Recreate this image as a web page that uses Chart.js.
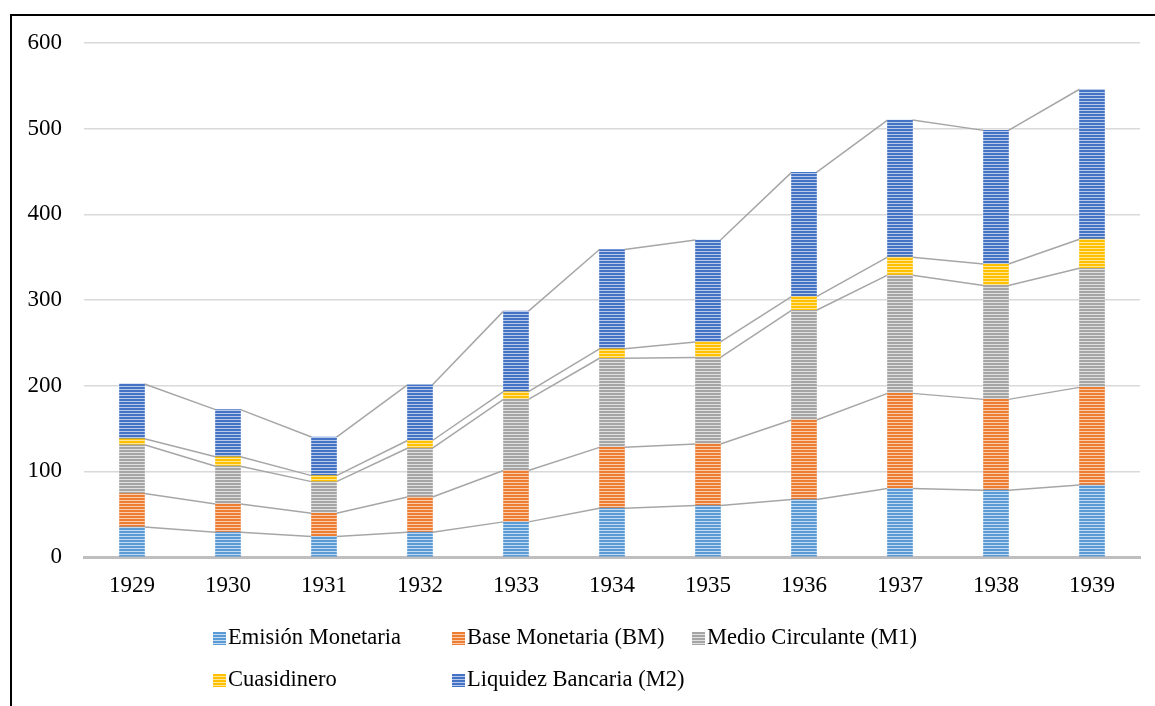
<!DOCTYPE html>
<html>
<head>
<meta charset="utf-8">
<script src="https://cdn.jsdelivr.net/npm/chart.js@4/dist/chart.umd.min.js"></script>
<style>
  body { margin: 0; background: #fff; }
  #wrap { position: relative; width: 1155px; height: 706px; overflow: hidden; }
  #frame { position: absolute; left: 10px; top: 14px; width: 1200px; height: 800px;
           border-left: 2.5px solid #000; border-top: 2.5px solid #000; }
  canvas { position: absolute; left: 0; top: 0; }
  .item { position: absolute; height: 26px; line-height: 26px; font: 22.5px "Liberation Serif", "Times New Roman", serif;
          color: #000; white-space: nowrap; }
  .box { position: absolute; width: 13px; height: 13px; }
</style>
</head>
<body>
<div id="wrap">
  <div id="frame"></div>
  <canvas id="chart" width="1155" height="706"></canvas>
  <div id="legend"></div>
</div>
<script>
  // 年ごとのデータ（積み上げの各区間の高さ）
  const years = ["1929", "1930", "1931", "1932", "1933", "1934", "1935", "1936", "1937", "1938", "1939"];
  const emision = [35, 29, 24, 29, 41, 57, 60, 67, 80, 78, 84];
  const baseMonetaria = [39, 33, 27, 41, 60, 71, 72, 93, 111, 106, 114];
  const medioCirculante = [57, 44, 37, 57, 83, 104, 101, 128, 138, 133, 139];
  const cuasidinero = [7, 11, 7, 9, 9, 11, 18, 16, 21, 25, 34];
  const liquidez = [64, 55, 45, 65, 94, 116, 119, 145, 160, 156, 175];
  const yTicks = [0, 100, 200, 300, 400, 500, 600];

  const seriesNames = ["Emisión Monetaria", "Base Monetaria (BM)", "Medio Circulante (M1)", "Cuasidinero", "Liquidez Bancaria (M2)"];
  const seriesColors = ["#5B9BD5", "#ED7D31", "#A5A5A5", "#FFC000", "#4472C4"];
  const seriesLight = ["#c4dbf1", "#f8cdb0", "#e0e0e0", "#ffe699", "#b9c9ea"];
  const seriesData = [emision, baseMonetaria, medioCirculante, cuasidinero, liquidez];

  // 横縞のパターン
  function stripe(color, light) {
    const c = document.createElement("canvas");
    c.width = 4; c.height = 3;
    const g = c.getContext("2d");
    g.fillStyle = color; g.fillRect(0, 0, 4, 3);
    g.fillStyle = light; g.fillRect(0, 2, 4, 1);
    return g.createPattern(c, "repeat");
  }

  // 系列線（各区間の上端を結ぶ）
  const seriesLines = {
    id: "seriesLines",
    beforeDatasetsDraw(chart) {
      const ctx = chart.ctx;
      ctx.save();
      ctx.strokeStyle = "#a6a6a6";
      ctx.lineWidth = 1.5;
      chart.data.datasets.forEach((ds, i) => {
        const bars = chart.getDatasetMeta(i).data;
        for (let k = 0; k < bars.length - 1; k++) {
          const a = bars[k], b = bars[k + 1];
          ctx.beginPath();
          ctx.moveTo(a.x + a.width / 2, a.y);
          ctx.lineTo(b.x - b.width / 2, b.y);
          ctx.stroke();
        }
      });
      ctx.restore();
    }
  };

  const font = { family: "'Liberation Serif', 'Times New Roman', serif", size: 23 };

  const ctx = document.getElementById("chart").getContext("2d");
  new Chart(ctx, {
    type: "bar",
    data: {
      labels: years,
      datasets: seriesData.map((d, i) => ({
        label: seriesNames[i],
        data: d,
        backgroundColor: stripe(seriesColors[i], seriesLight[i]),
        borderWidth: 0,
        barThickness: 25
      }))
    },
    options: {
      responsive: false,
      animation: false,
      layout: { padding: { left: 0, top: 43, right: 15, bottom: 0 } },
      plugins: { legend: { display: false }, tooltip: { enabled: false } },
      scales: {
        x: {
          stacked: true,
          grid: { display: false, drawTicks: false },
          border: { color: "#bfbfbf", width: 3 },
          ticks: { font: font, color: "#000", padding: 15, maxRotation: 0 },
          afterFit: (s) => { s.height = 149; }
        },
        y: {
          stacked: true,
          min: 0,
          max: 600,
          afterBuildTicks: (s) => { s.ticks = yTicks.map((v) => ({ value: v })); },
          grid: { color: "#d9d9d9", lineWidth: 1.5, drawTicks: false },
          border: { display: false },
          ticks: { font: font, color: "#000", padding: 22 },
          afterFit: (s) => { s.width = 84; }
        }
      }
    },
    plugins: [seriesLines]
  });

  // 凡例（HTML）
  const legendPos = [[213, 632], [452, 632], [692, 632], [213, 674], [452, 674]];
  const legend = document.getElementById("legend");
  seriesNames.forEach((name, i) => {
    const box = document.createElement("div");
    box.className = "box";
    box.style.left = legendPos[i][0] + "px";
    box.style.top = legendPos[i][1] + "px";
    box.style.background = `repeating-linear-gradient(to bottom, ${seriesColors[i]} 0px, ${seriesColors[i]} 2px, ${seriesLight[i]} 2px, ${seriesLight[i]} 3px)`;
    legend.appendChild(box);
    const t = document.createElement("div");
    t.className = "item";
    t.textContent = name;
    t.style.left = (legendPos[i][0] + 15) + "px";
    t.style.top = (legendPos[i][1] - 8) + "px";
    legend.appendChild(t);
  });
</script>
</body>
</html>
